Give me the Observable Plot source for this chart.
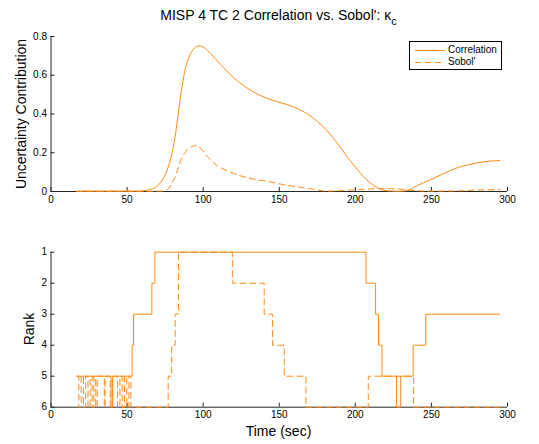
<!DOCTYPE html>
<html><head><meta charset="utf-8">
<script src="https://cdn.jsdelivr.net/npm/d3@7"></script>
<script src="https://cdn.jsdelivr.net/npm/@observablehq/plot@0.6"></script>
<style>
body{margin:0;background:#fff;}
#wrap{position:relative;width:539px;height:444px;font-family:"Liberation Sans",Arial,Helvetica,sans-serif;color:#000;overflow:hidden;}
#wrap svg.plot{position:absolute;left:0;}
.lab{position:absolute;font-size:14px;line-height:16px;white-space:nowrap;}
.rot{transform:translate(-50%,-50%) rotate(-90deg);}
.ctr{transform:translate(-50%,-50%);}
#legend{position:absolute;left:409px;top:41px;width:93px;height:29px;box-sizing:border-box;border:1px solid #000;background:#fff;font-size:10px;}
#legend .row{position:absolute;left:0;height:12px;width:91px;}
#legend svg{position:absolute;left:5px;top:0;}
#legend span{position:absolute;left:38px;top:-1px;line-height:13px;}
</style></head><body>
<div id="wrap">
  <div class="lab" style="left:0;width:557px;text-align:center;top:7px;">MISP 4 TC 2 Correlation vs. Sobol': κ<span style="font-size:11px;position:relative;top:5px;">c</span></div>
  <div class="lab rot" style="left:21px;top:113.5px;">Uncertainty Contribution</div>
  <div class="lab rot" style="left:29px;top:329px;">Rank</div>
  <div class="lab ctr" style="left:278.5px;top:431px;">Time (sec)</div>
  <div id="legend">
    <div class="row" style="top:2px;"><svg width="31" height="12"><line x1="0" x2="30" y1="6.5" y2="6.5" stroke="#ff8a14" stroke-width="1"/></svg><span>Correlation</span></div>
    <div class="row" style="top:14px;"><svg width="31" height="12"><line x1="0" x2="30" y1="6.5" y2="6.5" stroke="#ff8a14" stroke-width="1" stroke-dasharray="6,4"/></svg><span>Sobol'</span></div>
  </div>
</div>
<script>
// ---- data ----
const xTicks = [0, 50, 100, 150, 200, 250, 300];
const ucTicks = [0, 0.2, 0.4, 0.6, 0.8];
const rankTicks = [1, 2, 3, 4, 5, 6];

const corrT = [17, 30, 45, 55, 60, 64.5, 68.7, 73, 76.2, 79.4, 81.5, 83.6, 85.7, 87.9, 91, 94.3, 97.4, 100.6, 104.9, 111.3, 119.8, 128.3, 136.8, 145.3, 152, 160.2, 168.6, 175, 181.4, 187.7, 194.1, 200.4, 206.8, 213.1, 219.5, 224, 228, 234.3, 240.7, 249.2, 257.6, 266.1, 276.7, 287.3, 295];
const corrV = [0.002, 0.002, 0.002, 0.002, 0.003, 0.009, 0.022, 0.057, 0.108, 0.194, 0.28, 0.40, 0.52, 0.62, 0.70, 0.74, 0.752, 0.743, 0.712, 0.657, 0.589, 0.537, 0.498, 0.472, 0.456, 0.434, 0.40, 0.362, 0.314, 0.254, 0.185, 0.122, 0.065, 0.026, 0.005, 0.002, 0.001, 0.005, 0.031, 0.06, 0.091, 0.12, 0.142, 0.156, 0.16];

const sobolT = [17, 40, 60, 72, 75, 77.2, 79.5, 81.5, 83.5, 85.7, 88, 90, 92.5, 95, 97, 98.5, 100.5, 102.8, 106, 109.1, 115.5, 124, 132.6, 145.3, 149.6, 160.2, 170.8, 181.4, 192, 202.5, 213, 223.7, 230, 238.6, 249, 266, 287, 295];
const sobolV = [0.001, 0.001, 0.001, 0.002, 0.004, 0.014, 0.045, 0.074, 0.12, 0.168, 0.2, 0.22, 0.232, 0.237, 0.233, 0.22, 0.205, 0.18, 0.155, 0.134, 0.108, 0.082, 0.065, 0.048, 0.04, 0.026, 0.014, 0.002, 0.005, 0.01, 0.014, 0.015, 0.012, 0.005, 0.002, 0.003, 0.009, 0.01];

const corrRankT = [17, 39.5, 40.5, 53.3, 54.3, 66.3, 68.3, 207, 213.3, 215.2, 217.5, 227.1, 229.8, 238, 246.3, 295];
const corrRankV = [5, 6, 5, 4, 3, 2, 1, 2, 3, 4, 5, 6, 5, 4, 3, 3];

const sobolRankT = [17, 18.3, 19.8, 21.3, 22.8, 24.3, 25.7, 27.0, 28.2, 29.4, 30.4, 35.0, 35.6, 38.9, 40.5, 43.8, 45.3, 46.8, 48.3, 49.8, 51.2, 52.5, 77.0, 79.3, 81.6, 83.8, 119.2, 140.1, 145.6, 153.3, 167.5, 208.5, 238.3, 295];
const sobolRankV = [5, 6, 5, 6, 5, 6, 5, 6, 5, 6, 5, 6, 5, 6, 5, 6, 5, 6, 5, 6, 5, 6, 5, 4, 3, 1, 2, 3, 4, 5, 6, 5, 6, 6];

// ---- build tables ----
const zip = (T, V) => T.map((t, i) => ({t, v: V[i]}));
const corr = zip(corrT, corrV), sobol = zip(sobolT, sobolV);
const corrRank = zip(corrRankT, corrRankV), sobolRank = zip(sobolRankT, sobolRankV);

const W = 539, ML = 50.5, MR = 32;
const H1 = 215, MT1 = 36, MB1 = 24;
const H2 = 229, MT2 = 36.7, MB2 = 37.3;
const lineColor = "#ff8a14", axisColor = "#262626";
const style = {fontFamily: '"Liberation Sans", Arial, Helvetica, sans-serif', fontSize: "10px", color: "#000", background: "transparent", overflow: "visible"};
const fmt = d => String(d);

const topPlot = Plot.plot({
  width: W, height: H1, marginLeft: ML, marginRight: MR, marginTop: MT1, marginBottom: MB1, style,
  x: {domain: [0, 300]}, y: {domain: [0, 0.8]},
  marks: [
    Plot.axisX({ticks: xTicks, tickSize: 0, tickPadding: 4, label: null, tickFormat: fmt}),
    Plot.axisY({ticks: ucTicks, tickSize: 0, tickPadding: 4, label: null, tickFormat: fmt}),
    Plot.tickX(xTicks, {x: d => d, insetTop: (H1 - MT1 - MB1) - 4, stroke: axisColor}),
    Plot.tickY(ucTicks, {y: d => d, insetRight: (W - ML - MR) - 4, stroke: axisColor}),
    Plot.ruleX([0], {stroke: axisColor}),
    Plot.ruleY([0], {stroke: axisColor}),
    Plot.line(corr, {x: "t", y: "v", stroke: lineColor, strokeWidth: 1, curve: "monotone-x"}),
    Plot.line(sobol, {x: "t", y: "v", stroke: lineColor, strokeWidth: 1, strokeDasharray: "6,4", curve: "monotone-x"})
  ]
});
topPlot.style.top = "0px";

const botPlot = Plot.plot({
  width: W, height: H2, marginLeft: ML, marginRight: MR, marginTop: MT2, marginBottom: MB2, style,
  x: {domain: [0, 300]}, y: {domain: [6, 1]},
  marks: [
    Plot.axisX({ticks: xTicks, tickSize: 0, tickPadding: 4, label: null, tickFormat: fmt}),
    Plot.axisY({ticks: rankTicks, tickSize: 0, tickPadding: 4, label: null, tickFormat: fmt}),
    Plot.tickX(xTicks, {x: d => d, insetTop: (H2 - MT2 - MB2) - 4, stroke: axisColor}),
    Plot.tickY(rankTicks, {y: d => d, insetRight: (W - ML - MR) - 4, stroke: axisColor}),
    Plot.ruleX([0], {stroke: axisColor}),
    Plot.ruleY([6], {stroke: axisColor}),
    Plot.line(corrRank, {x: "t", y: "v", stroke: lineColor, strokeWidth: 1, curve: "step-after"}),
    Plot.line(sobolRank, {x: "t", y: "v", stroke: lineColor, strokeWidth: 1, strokeDasharray: "6,4", curve: "step-after"})
  ]
});
botPlot.style.top = H1 + "px";

const wrap = document.getElementById("wrap");
wrap.insertBefore(botPlot, wrap.firstChild);
wrap.insertBefore(topPlot, wrap.firstChild);
</script>
</body></html>
